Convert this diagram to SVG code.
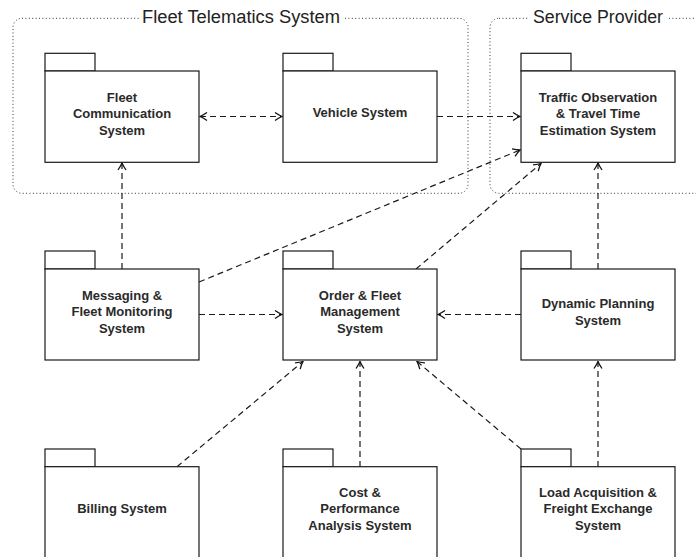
<svg xmlns="http://www.w3.org/2000/svg" width="696" height="557" viewBox="0 0 696 557">
<style>
.grp{fill:none;stroke:#333;stroke-width:1;stroke-dasharray:1 2.4}
.ttl{font-family:"Liberation Sans",Arial,sans-serif;font-size:18px;fill:#222;text-anchor:middle}
.box{fill:#fff;stroke:#1a1a1a;stroke-width:1.2}
.lbl{font-family:"Liberation Sans",Arial,sans-serif;font-size:13px;font-weight:bold;fill:#2a2a2a;text-anchor:middle}
.con{fill:none;stroke:#1a1a1a;stroke-width:1.2;stroke-dasharray:6 4}
</style>
<defs>
<marker id="ah" viewBox="-9 -5 10 10" refX="0" refY="0" markerWidth="10" markerHeight="10" markerUnits="userSpaceOnUse" orient="auto-start-reverse">
<path d="M-7,-4 Q-2.8,-1.1 0,0 Q-2.8,1.1 -7,4" fill="none" stroke="#111" stroke-width="1.3" stroke-dasharray="none" stroke-linejoin="miter"/>
</marker>
</defs>
<g id="groups">
<rect class="grp" x="13" y="18.3" width="455" height="175" rx="9"/>
<rect fill="#fff" x="139" y="6" width="205" height="22"/>
<text class="ttl" x="241" y="23" textLength="198" lengthAdjust="spacingAndGlyphs">Fleet Telematics System</text>
<rect class="grp" x="490" y="18.3" width="230" height="175" rx="9"/>
<rect fill="#fff" x="529" y="6" width="138" height="22"/>
<text class="ttl" x="598" y="23" textLength="130" lengthAdjust="spacingAndGlyphs">Service Provider</text>
</g>
<g id="connectors">
<line class="con" x1="200" y1="116.5" x2="282" y2="116.5" marker-start="url(#ah)" marker-end="url(#ah)"/>
<line class="con" x1="437" y1="116.5" x2="520" y2="116.5" marker-end="url(#ah)"/>
<line class="con" x1="122" y1="269" x2="122" y2="163" marker-end="url(#ah)"/>
<line class="con" x1="199" y1="282" x2="520" y2="150" marker-end="url(#ah)"/>
<line class="con" x1="199" y1="314.5" x2="282" y2="314.5" marker-end="url(#ah)"/>
<line class="con" x1="416" y1="269" x2="541" y2="163.5" marker-end="url(#ah)"/>
<line class="con" x1="598" y1="269" x2="598" y2="163" marker-end="url(#ah)"/>
<line class="con" x1="521" y1="314.5" x2="438" y2="314.5" marker-end="url(#ah)"/>
<line class="con" x1="177" y1="466.7" x2="303" y2="361.5" marker-end="url(#ah)"/>
<line class="con" x1="360" y1="467" x2="360" y2="361.5" marker-end="url(#ah)"/>
<line class="con" x1="521" y1="449" x2="417" y2="361.5" marker-end="url(#ah)"/>
<line class="con" x1="598" y1="467" x2="598" y2="361.5" marker-end="url(#ah)"/>
</g>
<g id="fleet-comm">
<rect class="box" x="45" y="53.3" width="50" height="17.7"/>
<rect class="box" x="45" y="71" width="154" height="91.3"/>
<text class="lbl" x="122" y="101.7">Fleet</text>
<text class="lbl" x="122" y="118.4">Communication</text>
<text class="lbl" x="122" y="135.1">System</text>
</g>
<g id="vehicle">
<rect class="box" x="283" y="53.3" width="50" height="17.7"/>
<rect class="box" x="283" y="71" width="154" height="91.3"/>
<text class="lbl" x="360" y="116.7">Vehicle System</text>
</g>
<g id="traffic">
<rect class="box" x="521" y="53.3" width="50" height="17.7"/>
<rect class="box" x="521" y="71" width="154" height="91.3"/>
<text class="lbl" x="598" y="101.7">Traffic Observation</text>
<text class="lbl" x="598" y="118.4">&amp; Travel Time</text>
<text class="lbl" x="598" y="135.1">Estimation System</text>
</g>
<g id="messaging">
<rect class="box" x="45" y="251" width="50" height="18"/>
<rect class="box" x="45" y="269" width="154" height="91"/>
<text class="lbl" x="122" y="299.5">Messaging &amp;</text>
<text class="lbl" x="122" y="316.2">Fleet Monitoring</text>
<text class="lbl" x="122" y="332.9">System</text>
</g>
<g id="order">
<rect class="box" x="283" y="251" width="50" height="18"/>
<rect class="box" x="283" y="269" width="154" height="91"/>
<text class="lbl" x="360" y="299.5">Order &amp; Fleet</text>
<text class="lbl" x="360" y="316.2">Management</text>
<text class="lbl" x="360" y="332.9">System</text>
</g>
<g id="dynamic">
<rect class="box" x="521" y="251" width="50" height="18"/>
<rect class="box" x="521" y="269" width="154" height="91"/>
<text class="lbl" x="598" y="308.3">Dynamic Planning</text>
<text class="lbl" x="598" y="324.5">System</text>
</g>
<g id="billing">
<rect class="box" x="45" y="449" width="50" height="17.7"/>
<rect class="box" x="45" y="466.7" width="154" height="95"/>
<text class="lbl" x="122" y="512.7">Billing System</text>
</g>
<g id="cost">
<rect class="box" x="283" y="449" width="50" height="17.7"/>
<rect class="box" x="283" y="466.7" width="154" height="95"/>
<text class="lbl" x="360" y="496.7">Cost &amp;</text>
<text class="lbl" x="360" y="513.2">Performance</text>
<text class="lbl" x="360" y="529.5">Analysis System</text>
</g>
<g id="load">
<rect class="box" x="521" y="449" width="50" height="17.7"/>
<rect class="box" x="521" y="466.7" width="154" height="95"/>
<text class="lbl" x="598" y="496.7">Load Acquisition &amp;</text>
<text class="lbl" x="598" y="513.2">Freight Exchange</text>
<text class="lbl" x="598" y="529.5">System</text>
</g>
</svg>
